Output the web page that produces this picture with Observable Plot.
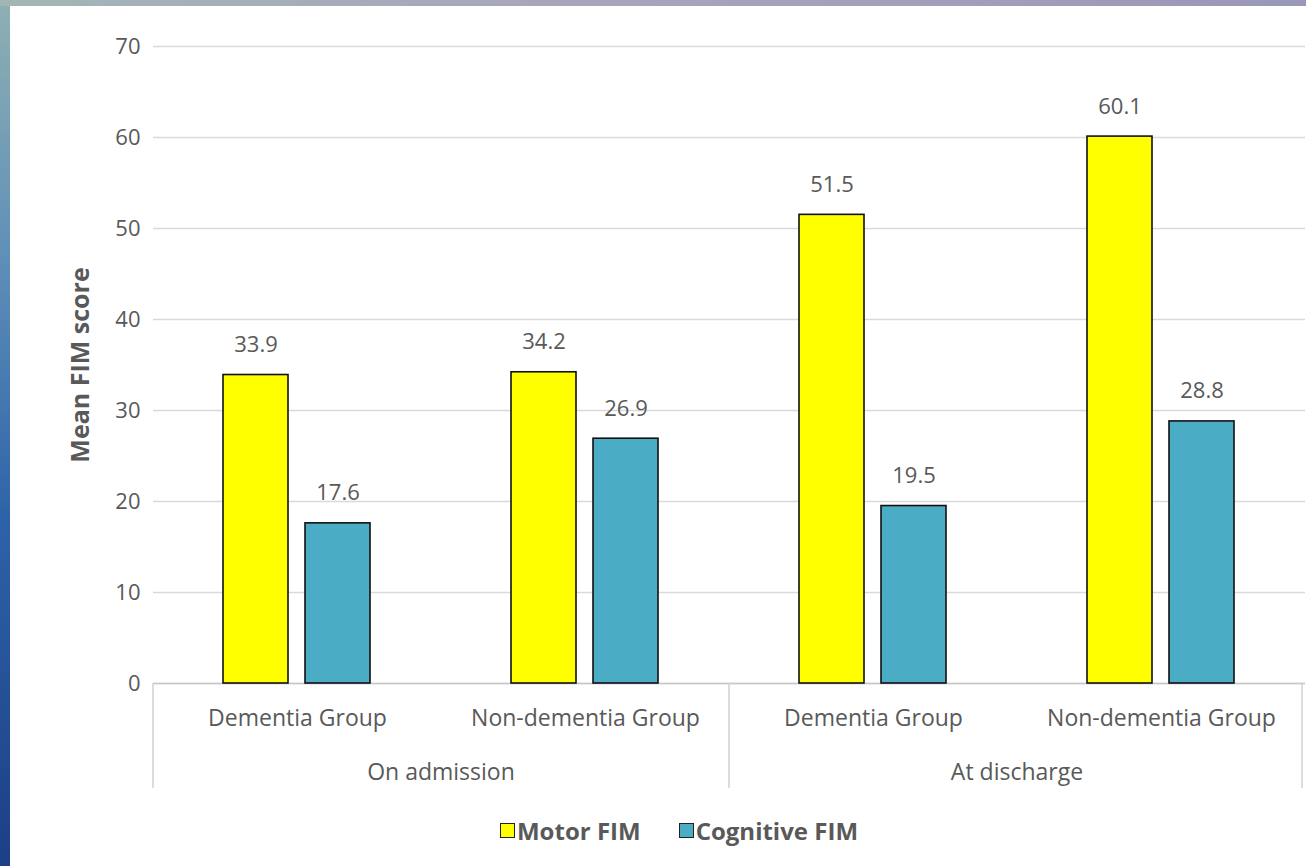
<!DOCTYPE html>
<html><head><meta charset="utf-8">
<script src="https://cdn.jsdelivr.net/npm/d3@7"></script>
<script src="https://cdn.jsdelivr.net/npm/@observablehq/plot@0.6"></script>
<style>
html,body{margin:0;padding:0;width:1306px;height:866px;overflow:hidden;}
body{position:relative;background:linear-gradient(to bottom,#8fb0b3 0%,#5f8fb8 30%,#2e62a8 60%,#1c3f86 100%);}
#topstrip{position:absolute;left:0;top:0;width:1306px;height:6px;background:linear-gradient(to right,#a2b6b6,#a9a2bc 50%,#9a98b8);}
#panel{position:absolute;left:10px;top:6px;width:1296px;height:860px;background:#fff;}
#chart{position:absolute;left:0;top:0;}
#legend{position:absolute;left:0;top:808px;width:1338px;display:flex;justify-content:center;gap:38px;font-family:"Open Sans",sans-serif;font-weight:bold;font-size:24px;color:#595959;}
.item{display:flex;align-items:center;gap:2px;}
.sw{width:15px;height:15px;border:1.5px solid #222;box-sizing:border-box;}
</style></head>
<body>
<div id="topstrip"></div>
<div id="panel"><div id="chart"></div><div id="legend"></div></div>
<script>
const timepoints = ["On admission", "On admission", "At discharge", "At discharge"];
const groups = ["Dementia Group", "Non-dementia Group", "Dementia Group", "Non-dementia Group"];
const series = ["Motor FIM", "Cognitive FIM"];
const motor = [33.9, 34.2, 51.5, 60.1];
const cognitive = [17.6, 26.9, 19.5, 28.8];
const colors = ["#ffff00", "#4bacc6"];
const yTicks = [0, 10, 20, 30, 40, 50, 60, 70];
const timepointLabels = ["On admission", "At discharge"];

const keys = groups.map((g, i) => i + "|" + timepoints[i] + "|" + g);
const rows = keys.flatMap((k, i) => [
  {key: k, series: series[0], value: motor[i]},
  {key: k, series: series[1], value: cognitive[i]}
]);
const keyToGroup = new Map(keys.map((k, i) => [k, groups[i]]));

const W = 1296, H = 794;
const FS = 22;
const chart = Plot.plot({
  width: W, height: H,
  marginLeft: 142, marginRight: 0, marginTop: 40, marginBottom: 117,
  style: {fontFamily: "'Open Sans', sans-serif", fontSize: FS + "px", color: "#595959", background: "transparent", overflow: "visible"},
  fx: {domain: keys, paddingInner: 0, paddingOuter: 0, label: null, axis: null},
  x: {domain: series, paddingInner: 0.205, paddingOuter: 0.838, axis: null},
  y: {domain: [0, 70], label: null, axis: null},
  color: {domain: series, range: colors},
  marks: [
    Plot.gridY(yTicks, {stroke: "#d9d9d9", strokeOpacity: 1, strokeWidth: 1.5}),
    Plot.axisY(yTicks, {tickSize: 0, tickPadding: 13, fontSize: FS, fill: "#595959", label: "Mean FIM score", labelAnchor: "center", labelArrow: "none", labelOffset: 82}),
    Plot.ruleY([0], {stroke: "#c8c8c8", strokeWidth: 1.5}),
    Plot.barY(rows, {fx: "key", x: "series", y: "value", fill: "series", stroke: "#111", strokeWidth: 1.6}),
    Plot.text(rows, {fx: "key", x: "series", y: "value", text: d => d.value.toFixed(1), dy: -30, fill: "#595959", fontSize: FS}),
    Plot.axisFx({anchor: "bottom", tickSize: 0, tickPadding: 26, fontSize: FS + 1, fill: "#595959", tickFormat: k => keyToGroup.get(k), label: null})
  ]
});
document.getElementById("chart").appendChild(chart);

// hierarchical category separators and outer labels, from the fx scale
const fx = chart.scale("fx");
const bw = fx.bandwidth;
const svg = d3.select(chart);
const y0 = chart.scale("y").apply(0);
const sepX = [fx.apply(keys[0]), fx.apply(keys[2]), fx.apply(keys[3]) + bw - 3];
svg.append("g").selectAll("line").data(sepX).join("line")
  .attr("x1", d => d).attr("x2", d => d)
  .attr("y1", y0).attr("y2", y0 + 105)
  .attr("stroke", "#d0d0d0").attr("stroke-width", 1.5);
svg.append("g").selectAll("text").data(timepointLabels).join("text")
  .attr("x", (d, i) => (fx.apply(keys[2 * i]) + fx.apply(keys[2 * i + 1]) + bw) / 2)
  .attr("y", y0 + 97)
  .attr("text-anchor", "middle")
  .attr("font-family", "'Open Sans', sans-serif")
  .attr("font-size", FS + 1)
  .attr("fill", "#595959")
  .text(d => d);
svg.selectAll("[aria-label='y-axis label'] text, [aria-label='y-axis label']").attr("font-weight", "bold").attr("font-size", 25);

// legend
const legend = d3.select("#legend");
series.forEach((s, i) => {
  const it = legend.append("div").attr("class", "item");
  it.append("div").attr("class", "sw").style("background", colors[i]);
  it.append("span").text(s);
});
</script>
</body></html>
